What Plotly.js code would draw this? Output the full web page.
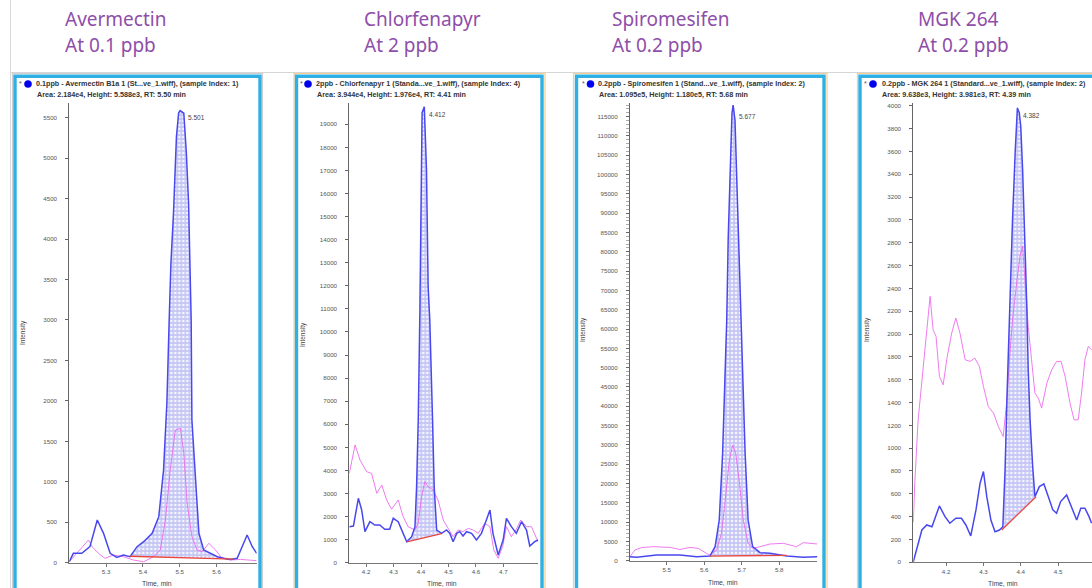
<!DOCTYPE html>
<html><head><meta charset="utf-8">
<script src="https://cdn.plot.ly/plotly-3.0.1.min.js"></script>
<style>html,body{margin:0;padding:0;background:#fff}#chart{width:1092px;height:588px}</style>
</head><body><div id="chart"></div>
<script>
// ---------- Data ----------
const compounds = ["Avermectin", "Chlorfenapyr", "Spiromesifen", "MGK 264"];
const levels = ["At 0.1 ppb", "At 2 ppb", "At 0.2 ppb", "At 0.2 ppb"];
const headerLine1 = [
  "0.1ppb - Avermectin B1a 1 (St...ve_1.wiff), (sample Index: 1)",
  "2ppb - Chlorfenapyr 1 (Standa...ve_1.wiff), (sample Index: 4)",
  "0.2ppb - Spiromesifen 1 (Stand...ve_1.wiff), (sample Index: 2)",
  "0.2ppb - MGK 264 1 (Standard...ve_1.wiff), (sample Index: 2)"
];
const headerLine2 = [
  "Area: 2.184e4, Height: 5.588e3, RT: 5.50 min",
  "Area: 3.944e4, Height: 1.976e4, RT: 4.41 min",
  "Area: 1.095e5, Height: 1.180e5, RT: 5.68 min",
  "Area: 9.638e3, Height: 3.981e3, RT: 4.39 min"
];
const peakLabels = ["5.501", "4.412", "5.677", "4.382"];

// Avermectin
const avermectinTime = [5.200,5.211,5.234,5.256,5.276,5.293,5.311,5.329,5.347,5.365,5.384,5.402,5.425,5.443,5.456,5.465,5.471,5.476,5.483,5.491,5.497,5.501,5.511,5.518,5.524,5.529,5.531,5.533,5.543,5.552,5.565,5.583,5.602,5.620,5.638,5.656,5.670,5.683,5.697,5.709];
const avermectinQuant = [12,116,116,198,528,363,116,66,95,74,198,260,363,569,1146,1970,2950,3700,4319,5266,5560,5588,5555,5060,4442,3453,3000,1764,940,363,157,116,74,54,41,54,198,342,198,116];
const avermectinQualTime = [5.200,5.220,5.252,5.262,5.279,5.297,5.320,5.347,5.374,5.402,5.429,5.447,5.461,5.474,5.488,5.502,5.511,5.520,5.533,5.547,5.561,5.579,5.597,5.615,5.638,5.665,5.692,5.709];
const avermectinQual = [12,116,280,198,116,54,95,74,33,12,74,157,528,1146,1640,1660,1352,734,322,157,136,240,157,54,33,41,33,25];
const avermectinBaseTime = [5.365, 5.647];
const avermectinBase = [80, 45];
const avermectinTicks = [5.3, 5.4, 5.5, 5.6];

// Chlorfenapyr
const chlorfenapyrTime = [4.139,4.154,4.172,4.184,4.196,4.214,4.232,4.250,4.268,4.286,4.299,4.317,4.335,4.348,4.366,4.378,4.384,4.390,4.396,4.400,4.404,4.412,4.420,4.426,4.432,4.442,4.448,4.457,4.475,4.493,4.505,4.517,4.530,4.541,4.553,4.566,4.584,4.602,4.620,4.638,4.651,4.662,4.681,4.699,4.711,4.729,4.747,4.766,4.784,4.796,4.814,4.826];
const chlorfenapyrQuant = [1560,1590,2790,2285,1345,1777,1633,1633,1448,1448,1925,1777,1272,911,1127,1560,3295,6186,10900,15579,19500,19760,17022,11964,10520,6186,3295,1417,1272,1417,1272,911,1272,1345,1156,1345,1272,984,1272,1850,2285,1272,333,984,1925,1560,1272,1777,1417,724,911,984];
const chlorfenapyrQualTime = [4.139,4.160,4.178,4.202,4.220,4.239,4.257,4.275,4.293,4.317,4.335,4.353,4.378,4.390,4.402,4.414,4.426,4.444,4.462,4.481,4.499,4.517,4.535,4.553,4.572,4.590,4.608,4.632,4.651,4.665,4.681,4.697,4.711,4.729,4.747,4.763,4.784,4.802,4.826];
const chlorfenapyrQual = [3875,5102,4452,3945,3875,3008,3368,2718,2315,2718,1994,1560,1417,1705,2861,3511,3295,3151,2718,1850,1488,1127,1417,1345,1488,1417,1272,1705,1560,550,190,695,1560,1127,1448,1850,1560,1560,911];
const chlorfenapyrBaseTime = [4.348, 4.475];
const chlorfenapyrBase = [900, 1260];
const chlorfenapyrTicks = [4.2, 4.3, 4.4, 4.5, 4.6, 4.7];

// Spiromesifen
const spiromesifenTime = [5.402,5.420,5.473,5.535,5.580,5.615,5.629,5.640,5.649,5.655,5.660,5.664,5.669,5.674,5.677,5.682,5.686,5.693,5.697,5.701,5.709,5.717,5.729,5.749,5.775,5.820,5.864,5.902];
const spiromesifenQuant = [1036,900,1476,1476,1036,1200,3626,10541,27817,49390,62340,83916,101200,115875,118030,114140,101200,79617,62340,49390,27817,10541,3626,2072,1900,1200,900,1036];
const spiromesifenQualTime = [5.402,5.415,5.433,5.464,5.509,5.535,5.562,5.584,5.606,5.615,5.633,5.646,5.655,5.667,5.676,5.684,5.693,5.704,5.717,5.729,5.749,5.775,5.811,5.846,5.864,5.882,5.902];
const spiromesifenQual = [1036,2770,3400,3626,3450,2900,3450,3200,1900,1476,2770,7088,14860,26080,29966,27817,20900,10541,4500,3200,3626,4325,4500,3626,4662,4500,4325];
const spiromesifenBaseTime = [5.615, 5.820];
const spiromesifenBase = [1200, 1400];
const spiromesifenTicks = [5.5, 5.6, 5.7, 5.8];

// MGK 264
const mgkTime = [4.112,4.121,4.135,4.148,4.162,4.182,4.197,4.210,4.226,4.241,4.253,4.266,4.280,4.291,4.300,4.309,4.320,4.331,4.343,4.352,4.358,4.364,4.369,4.371,4.378,4.385,4.391,4.396,4.400,4.405,4.411,4.416,4.420,4.425,4.432,4.438,4.450,4.462,4.474,4.486,4.496,4.507,4.523,4.537,4.550,4.561,4.572,4.583,4.590];
const mgkQuant = [5,108,283,327,312,494,400,342,386,386,327,231,459,693,795,575,371,268,283,312,810,1540,2125,2272,3003,3588,3981,3939,3821,3441,2856,2272,1687,1248,839,575,663,687,575,459,430,532,590,474,371,474,474,400,342];
const mgkQualTime = [4.112,4.116,4.125,4.135,4.145,4.150,4.157,4.165,4.173,4.182,4.192,4.203,4.215,4.226,4.237,4.251,4.264,4.277,4.289,4.300,4.313,4.327,4.340,4.353,4.362,4.371,4.378,4.389,4.398,4.405,4.411,4.420,4.429,4.438,4.447,4.456,4.470,4.483,4.496,4.508,4.519,4.532,4.543,4.554,4.563,4.572,4.581,4.590];
const mgkQual = [350,700,1248,1599,1891,2125,2330,2038,1979,1628,1555,1803,2009,2140,2009,1775,1760,1789,1716,1540,1365,1307,1189,1102,1395,1833,2125,2447,2681,2768,2505,2067,1775,1482,1438,1351,1570,1687,1760,1760,1628,1395,1248,1248,1482,1775,1891,1862];
const mgkBaseTime = [4.349, 4.441];
const mgkBase = [283, 575];
const mgkTicks = [4.2, 4.3, 4.4, 4.5];

// ---------- Layout geometry (pixels) ----------
const W = 1092, H = 588;
const px = x => x / W;
const py = y => 1 - y / H;

const series = [
  {t: avermectinTime, q: avermectinQuant, qt: avermectinQualTime, ql: avermectinQual, bt: avermectinBaseTime, b: avermectinBase, ticks: avermectinTicks},
  {t: chlorfenapyrTime, q: chlorfenapyrQuant, qt: chlorfenapyrQualTime, ql: chlorfenapyrQual, bt: chlorfenapyrBaseTime, b: chlorfenapyrBase, ticks: chlorfenapyrTicks},
  {t: spiromesifenTime, q: spiromesifenQuant, qt: spiromesifenQualTime, ql: spiromesifenQual, bt: spiromesifenBaseTime, b: spiromesifenBase, ticks: spiromesifenTicks},
  {t: mgkTime, q: mgkQuant, qt: mgkQualTime, ql: mgkQual, bt: mgkBaseTime, b: mgkBase, ticks: mgkTicks}
];

const geom = [
  {xl: 69.3, xr: 256.7, yb: 562.7, yt: 103, xr0: 5.2, xr1: 5.709, ytop: 5682, dtick: 500, frameL: 15, frameR: 260, outerL: 12.5, outerR: 262.5, outerCol: '#cfcfcf',
   titleX: 63, dot: [28, 84], star: 20, h1: 34, h2: 35, peak: [186, 117], ytitle: [23, 333], xtitle: [157, 583]},
  {xl: 349.3, xr: 538.3, yb: 562.7, yt: 103, xr0: 4.139, xr1: 4.827, ytop: 19923, dtick: 1000, frameL: 296.5, frameR: 542, outerL: 294, outerR: 545, outerCol: '#f5cf8e',
   titleX: 362, dot: [308, 84], star: 301.5, h1: 313.5, h2: 315, peak: [427, 115], ytitle: [303, 335], xtitle: [442, 583]},
  {xl: 630, xr: 817.3, yb: 560.7, yt: 103, xr0: 5.402, xr1: 5.9015, ytop: 118545, dtick: 5000, frameL: 576.5, frameR: 824, outerL: 573.5, outerR: 827, outerCol: '#f5cf8e',
   titleX: 610, dot: [590.5, 84], star: 583, h1: 596, h2: 597, peak: [736.5, 116.5], ytitle: [583, 330], xtitle: [723, 582]},
  {xl: 913.3, xr: 1092, yb: 562.3, yt: 103, xr0: 4.112, xr1: 4.591, ytop: 4024, dtick: 200, frameL: 860, frameR: 1110, outerL: 857.5, outerR: 1113, outerCol: '#f5cf8e',
   titleX: 916, dot: [873, 84], star: 865, h1: 879.5, h2: 880, peak: [1021, 115.5], ytitle: [867, 330], xtitle: [1003, 583]}
];

const traces = [];
const layout = {
  width: W, height: H, margin: {l: 0, r: 0, t: 0, b: 0},
  paper_bgcolor: '#ffffff', plot_bgcolor: 'rgba(0,0,0,0)',
  showlegend: false, hovermode: false,
  shapes: [], annotations: []
};

const tickFont = {family: 'Liberation Sans, Arial, sans-serif', size: 6.2, color: '#555'};
const purple = '#8e4ea9';

// background separators
layout.shapes.push({type: 'line', xref: 'paper', yref: 'paper', x0: px(10.5), x1: px(10.5), y0: 0, y1: 1, line: {color: '#d9d9d9', width: 1}, layer: 'below'});
layout.shapes.push({type: 'line', xref: 'paper', yref: 'paper', x0: px(10.5), x1: 1, y0: py(72.5), y1: py(72.5), line: {color: '#d6d6d6', width: 1}, layer: 'below'});

series.forEach((s, i) => {
  const g = geom[i];
  const n = i === 0 ? '' : String(i + 1);
  const xa = 'x' + n, ya = 'y' + n;

  // frames
  layout.shapes.push({type: 'rect', xref: 'paper', yref: 'paper', x0: px(g.outerL), x1: px(g.outerR), y0: py(620), y1: py(73.5),
    line: {color: g.outerCol, width: 1.2}, fillcolor: 'rgba(0,0,0,0)', layer: 'below'});
  layout.shapes.push({type: 'rect', xref: 'paper', yref: 'paper', x0: px(g.frameL), x1: px(g.frameR), y0: py(620), y1: py(76.2),
    line: {color: '#2fb0e4', width: 3.4}, fillcolor: '#ffffff', layer: 'below'});
  // blue dot
  layout.shapes.push({type: 'circle', xref: 'paper', yref: 'paper', x0: px(g.dot[0] - 3.6), x1: px(g.dot[0] + 3.6), y0: py(g.dot[1] + 3.6), y1: py(g.dot[1] - 3.6),
    line: {color: '#0000e6', width: 0.5}, fillcolor: '#0000f0'});

  // axes
  layout['xaxis' + n] = {
    domain: [px(g.xl), px(g.xr)], range: [g.xr0, g.xr1], anchor: ya,
    showline: true, linecolor: '#777', linewidth: 1, ticks: 'outside', ticklen: 3, tickcolor: '#777',
    tickvals: s.ticks, ticktext: s.ticks.map(v => v.toFixed(1)), tickfont: tickFont,
    showgrid: false, zeroline: false, fixedrange: true
  };
  const yax = {
    domain: [py(g.yb), py(g.yt)], range: [0, g.ytop], anchor: xa,
    showline: true, linecolor: '#666', linewidth: 1, ticks: 'outside', ticklen: 3, tickcolor: '#666',
    tick0: 0, dtick: g.dtick, tickformat: 'd', tickfont: tickFont, ticklabelstandoff: 7,
    showgrid: false, zeroline: false, fixedrange: true
  };
  if (i === 2) yax.minor = {ticks: 'outside', ticklen: 3, dtick: 1000, tickcolor: '#aaa', showgrid: false};
  layout['yaxis' + n] = yax;

  // integrated area: quant points inside the baseline window, closed along the baseline
  const fx = [], fy = [];
  s.t.forEach((t, k) => { if (t >= s.bt[0] && t <= s.bt[1]) { fx.push(t); fy.push(s.q[k]); } });
  fx.push(s.bt[1], s.bt[0]); fy.push(s.b[1], s.b[0]);
  traces.push({x: fx, y: fy, xaxis: xa, yaxis: ya, type: 'scatter', mode: 'lines', line: {width: 0, color: 'rgba(0,0,0,0)'},
    fill: 'toself', fillcolor: '#c8c8f6',
    fillpattern: {shape: '.', bgcolor: '#c6c6f5', fgcolor: '#f4f4ff', size: 4, solidity: 0.35}, hoverinfo: 'skip'});
  // qualifier ion (pink)
  traces.push({x: s.qt, y: s.ql, xaxis: xa, yaxis: ya, type: 'scatter', mode: 'lines', line: {color: 'rgba(236,100,236,0.85)', width: 1}, hoverinfo: 'skip'});
  // quantifier ion (blue)
  traces.push({x: s.t, y: s.q, xaxis: xa, yaxis: ya, type: 'scatter', mode: 'lines', line: {color: '#4848ee', width: 1.5}, hoverinfo: 'skip'});
  // baseline (red)
  traces.push({x: s.bt, y: s.b, xaxis: xa, yaxis: ya, type: 'scatter', mode: 'lines', line: {color: '#e8473f', width: 1.3}, hoverinfo: 'skip'});

  // texts
  const A = layout.annotations;
  A.push({xref: 'paper', yref: 'paper', x: px(g.titleX), y: py(19), xanchor: 'left', yanchor: 'middle', showarrow: false,
    text: compounds[i], font: {family: 'Noto Sans, sans-serif', size: 19, color: purple}});
  A.push({xref: 'paper', yref: 'paper', x: px(g.titleX), y: py(45), xanchor: 'left', yanchor: 'middle', showarrow: false,
    text: levels[i], font: {family: 'Noto Sans, sans-serif', size: 19, color: purple}});
  A.push({xref: 'paper', yref: 'paper', x: px(g.star), y: py(83), xanchor: 'center', yanchor: 'middle', showarrow: false,
    text: '*', font: {family: 'Liberation Sans, sans-serif', size: 7, color: '#555'}});
  A.push({xref: 'paper', yref: 'paper', x: px(g.h1), y: py(84), xanchor: 'left', yanchor: 'middle', showarrow: false,
    text: '<b>' + headerLine1[i] + '</b>', font: {family: 'Liberation Sans, sans-serif', size: 7.2, color: '#333'}});
  A.push({xref: 'paper', yref: 'paper', x: px(g.h2), y: py(94), xanchor: 'left', yanchor: 'middle', showarrow: false,
    text: '<b>' + headerLine2[i] + '</b>', font: {family: 'Liberation Sans, sans-serif', size: 7.2, color: '#333'}});
  A.push({xref: 'paper', yref: 'paper', x: px(g.peak[0]), y: py(g.peak[1]), xanchor: 'left', yanchor: 'middle', showarrow: false,
    text: peakLabels[i], font: {family: 'Liberation Sans, sans-serif', size: 6.5, color: '#444'}});
  A.push({xref: 'paper', yref: 'paper', x: px(g.ytitle[0]), y: py(g.ytitle[1]), xanchor: 'center', yanchor: 'middle', showarrow: false,
    text: 'Intensity', textangle: -90, font: {family: 'Liberation Sans, sans-serif', size: 6.5, color: '#444'}});
  A.push({xref: 'paper', yref: 'paper', x: px(g.xtitle[0]), y: py(g.xtitle[1]), xanchor: 'center', yanchor: 'middle', showarrow: false,
    text: 'Time, min', font: {family: 'Liberation Sans, sans-serif', size: 6.8, color: '#444'}});
});

Plotly.newPlot('chart', traces, layout, {staticPlot: true, displayModeBar: false});
</script>
</body></html>
